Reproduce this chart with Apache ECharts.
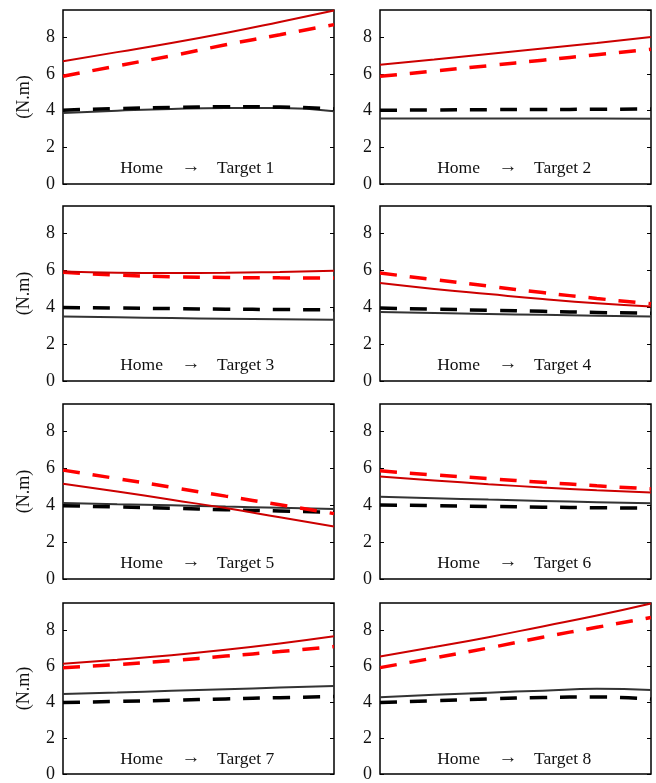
<!DOCTYPE html>
<html>
<head>
<meta charset="utf-8">
<script src="https://cdn.jsdelivr.net/npm/echarts@6/dist/echarts.min.js"></script>
<style>html,body{margin:0;padding:0;background:#fff}#c{width:656px;height:783px}</style>
</head>
<body>
<div id="c"></div>
<script>
// Shared x positions (normalised path Home -> Target)
var xs = [0, 0.2, 0.4, 0.6, 0.8, 1];
var panelTitles = ['Target 1','Target 2','Target 3','Target 4','Target 5','Target 6','Target 7','Target 8'];

// Series values per panel: red solid, red dashed, gray solid, black dashed
var redSolid1 = [6.70, 7.20, 7.70, 8.25, 8.85, 9.47];
var redDash1  = [5.88, 6.45, 7.00, 7.60, 8.15, 8.70];
var gray1     = [3.88, 4.00, 4.10, 4.15, 4.15, 3.97];
var black1    = [4.03, 4.12, 4.18, 4.22, 4.20, 4.10];

var redSolid2 = [6.51, 6.80, 7.10, 7.40, 7.70, 8.02];
var redDash2  = [5.88, 6.17, 6.46, 6.76, 7.06, 7.36];
var gray2     = [3.58, 3.58, 3.57, 3.57, 3.57, 3.56];
var black2    = [4.03, 4.04, 4.06, 4.07, 4.08, 4.10];

var redSolid3 = [5.95, 5.88, 5.86, 5.87, 5.92, 5.99];
var redDash3  = [5.90, 5.75, 5.66, 5.62, 5.60, 5.59];
var gray3     = [3.50, 3.46, 3.42, 3.38, 3.35, 3.32];
var black3    = [3.99, 3.96, 3.93, 3.90, 3.88, 3.86];

var redSolid4 = [5.32, 5.00, 4.72, 4.45, 4.22, 4.05];
var redDash4  = [5.86, 5.50, 5.15, 4.80, 4.48, 4.19];
var gray4     = [3.74, 3.69, 3.64, 3.59, 3.54, 3.50];
var black4    = [3.96, 3.90, 3.84, 3.78, 3.72, 3.68];

var redSolid5 = [5.17, 4.75, 4.30, 3.85, 3.35, 2.85];
var redDash5  = [5.91, 5.45, 4.98, 4.50, 4.03, 3.55];
var gray5     = [4.13, 4.06, 4.00, 3.93, 3.87, 3.80];
var black5    = [3.98, 3.91, 3.84, 3.76, 3.69, 3.62];

var redSolid6 = [5.56, 5.35, 5.15, 4.97, 4.82, 4.69];
var redDash6  = [5.87, 5.65, 5.45, 5.25, 5.06, 4.89];
var gray6     = [4.47, 4.39, 4.31, 4.24, 4.17, 4.11];
var black6    = [4.02, 3.98, 3.94, 3.90, 3.87, 3.84];

var redSolid7 = [6.13, 6.35, 6.60, 6.90, 7.25, 7.65];
var redDash7  = [5.90, 6.08, 6.30, 6.55, 6.80, 7.08];
var gray7     = [4.45, 4.53, 4.62, 4.71, 4.80, 4.89];
var black7    = [3.97, 4.03, 4.10, 4.17, 4.24, 4.30];

var redSolid8 = [6.53, 7.05, 7.60, 8.20, 8.80, 9.47];
var redDash8  = [5.91, 6.45, 7.00, 7.60, 8.15, 8.69];
var gray8     = [4.27, 4.40, 4.52, 4.63, 4.73, 4.67];
var black8    = [3.97, 4.07, 4.17, 4.25, 4.28, 4.16];

var panels = [
  [redSolid1, redDash1, gray1, black1],
  [redSolid2, redDash2, gray2, black2],
  [redSolid3, redDash3, gray3, black3],
  [redSolid4, redDash4, gray4, black4],
  [redSolid5, redDash5, gray5, black5],
  [redSolid6, redDash6, gray6, black6],
  [redSolid7, redDash7, gray7, black7],
  [redSolid8, redDash8, gray8, black8]
];

(function () {
  var FONT = "'Liberation Serif','Times New Roman',serif";
  var colLeft = [63, 380];
  var plotW = 271;
  var rowTop = [10, 206, 404, 603];
  var rowBottom = [184, 381, 579, 775];

  var colors = ['#cc0000', '#ff0000', '#333333', '#000000'];
  var widths = [2, 3.5, 2, 3.5];
  var dashed = [false, true, false, true];

  var grids = [], xAxes = [], yAxes = [], series = [], graphics = [];

  for (var i = 0; i < 8; i++) {
    var col = i % 2, row = Math.floor(i / 2);
    var gLeft = colLeft[col], gTop = rowTop[row], gH = rowBottom[row] - rowTop[row];
    grids.push({left: gLeft, top: gTop, width: plotW, height: gH, show: true,
      borderColor: '#000', borderWidth: 1.5});
    xAxes.push({type: 'value', gridIndex: i, min: 0, max: 1,
      axisLine: {show: false}, axisTick: {show: false}, axisLabel: {show: false}, splitLine: {show: false}});
    var ya = {type: 'value', gridIndex: i, min: 0, max: 9.5, interval: 2, position: 'left',
      axisLine: {show: false},
      axisTick: {show: true, inside: true, length: 4, lineStyle: {color: '#000', width: 1}},
      axisLabel: {show: true, fontFamily: FONT, fontSize: 18, color: '#111', margin: 8, showMaxLabel: false},
      splitLine: {show: false}};
    if (col === 0) {
      ya.name = '(N.m)';
      ya.nameLocation = 'middle';
      ya.nameGap = 30;
      ya.nameRotate = 90;
      ya.nameTextStyle = {fontFamily: FONT, fontSize: 18, color: '#111'};
    }
    yAxes.push(ya);
    yAxes.push({type: 'value', gridIndex: i, min: 0, max: 9.5, interval: 2, position: 'right',
      axisLine: {show: false},
      axisTick: {show: true, inside: true, length: 4, lineStyle: {color: '#000', width: 1}},
      axisLabel: {show: false}, splitLine: {show: false}});
    var order = [2, 3, 1, 0];
    for (var k = 0; k < 4; k++) {
      var s = order[k];
      var vals = panels[i][s];
      var pts = [];
      for (var j = 0; j < xs.length; j++) pts.push([xs[j], vals[j]]);
      series.push({type: 'line', xAxisIndex: i, yAxisIndex: 2 * i, smooth: true, symbol: 'none',
        data: pts,
        lineStyle: {color: colors[s], width: widths[s], type: dashed[s] ? [17, 13] : 'solid'}});
    }
    var ty = rowBottom[row] - 25;
    graphics.push({type: 'text', x: gLeft + 100, y: ty, z: 10,
      style: {text: 'Home', font: '17.5px ' + FONT, fill: '#111', textAlign: 'right'}});
    graphics.push({type: 'text', x: gLeft + 128, y: ty - 1, z: 10,
      style: {text: '\u2192', font: '19px ' + FONT, fill: '#111', textAlign: 'center'}});
    graphics.push({type: 'text', x: gLeft + 154, y: ty, z: 10,
      style: {text: panelTitles[i], font: '17.5px ' + FONT, fill: '#111', textAlign: 'left'}});
  }

  var chart = echarts.init(document.getElementById('c'));
  chart.setOption({animation: false, grid: grids, xAxis: xAxes, yAxis: yAxes, series: series, graphic: graphics});
})();
</script>
</body>
</html>
